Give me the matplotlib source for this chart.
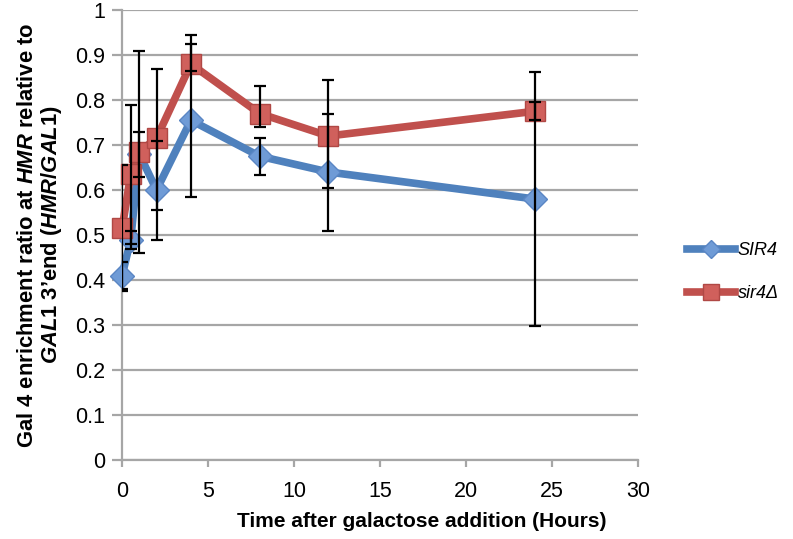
import numpy as np
import matplotlib
matplotlib.use("Agg")
import matplotlib.pyplot as plt

plt.rcParams['font.family'] = ['Liberation Sans', 'DejaVu Sans']
plt.rcParams['mathtext.fontset'] = 'custom'
plt.rcParams['mathtext.rm'] = 'Liberation Sans:bold'
plt.rcParams['mathtext.it'] = 'Liberation Sans:italic:bold'
plt.rcParams['mathtext.bf'] = 'Liberation Sans:bold'

# hours after galactose addition
hours = [0, 0.5, 1, 2, 4, 8, 12, 24]

sir4_wt = [0.41, 0.49, 0.68, 0.60, 0.755, 0.675, 0.64, 0.58]
sir4_wt_err = [0.03, 0.02, 0.05, 0.11, 0.17, 0.041, 0.13, 0.283]

sir4_del = [0.515, 0.635, 0.685, 0.715, 0.88, 0.77, 0.72, 0.775]
sir4_del_err_lo = [0.14, 0.155, 0.225, 0.16, 0.015, 0.03, 0.115, 0.02]
sir4_del_err_hi = [0.14, 0.155, 0.225, 0.155, 0.065, 0.062, 0.125, 0.02]

yticks = [0, 0.1, 0.2, 0.3, 0.4, 0.5, 0.6, 0.7, 0.8, 0.9, 1]
ytick_labels = ['0', '0.1', '0.2', '0.3', '0.4', '0.5', '0.6', '0.7', '0.8', '0.9', '1']
xticks = [0, 5, 10, 15, 20, 25, 30]
series_names = ['SIR4', 'sir4\u0394']

blue = '#4f81bd'
red = '#c0504d'
grid = '#a6a6a6'

fig = plt.figure(figsize=(7.93, 5.39), dpi=100)
ax = fig.add_axes([0.154, 0.1466, 0.6505, 0.8348])

ax.plot(hours, sir4_wt, color=blue, lw=5.5, marker='D', ms=12, clip_on=False,
        mfc='#6f9bd6', mec='#5a86c4', mew=1, zorder=3, label=series_names[0])
ax.plot(hours, sir4_del, color=red, lw=5.5, marker='s', ms=15, clip_on=False,
        mfc='#d0605c', mec='#b04845', mew=1, zorder=4, label=series_names[1])

ax.errorbar(hours, sir4_wt, yerr=sir4_wt_err, fmt='none', ecolor='black',
            elinewidth=1.6, capsize=4.5, capthick=1.6, zorder=5)
ax.errorbar(hours, sir4_del, yerr=[sir4_del_err_lo, sir4_del_err_hi], fmt='none',
            ecolor='black', elinewidth=1.6, capsize=4.5, capthick=1.6, zorder=5)

ax.set_xlim(0, 30)
ax.set_ylim(0, 1)
ax.set_xticks(xticks)
ax.set_yticks(yticks)
ax.set_yticklabels(ytick_labels)
ax.yaxis.grid(True, color=grid, lw=1.6)
ax.set_axisbelow(True)
for s in ['top', 'right']:
    ax.spines[s].set_visible(False)
for s in ['left', 'bottom']:
    ax.spines[s].set_color(grid)
    ax.spines[s].set_linewidth(1.6)
ax.tick_params(axis='both', colors=grid, width=1.6, labelsize=15.5,
               labelcolor='black')
ax.tick_params(axis='y', length=7, pad=5)
ax.tick_params(axis='x', length=5, pad=10)

ax.set_xlabel('Time after galactose addition (Hours)', fontsize=15,
              fontweight='bold', labelpad=9)
ax.xaxis.set_label_coords(0.581, -0.115)
ax.set_ylabel('Gal 4 enrichment ratio at $HMR$ relative to\n$GAL1$ 3\u2019end ($HMR$/$GAL1$)',
              fontsize=15.8, fontweight='bold', linespacing=1.05, labelpad=8.5)

leg = fig.legend(loc='center left', bbox_to_anchor=(0.866, 0.495), frameon=False,
                 prop={'size': 13, 'style': 'italic'}, handlelength=2.7,
                 labelspacing=1.45, handletextpad=0.12, borderpad=0,
                 borderaxespad=0, markerscale=0.75)

fig.savefig('out.png', dpi=100)
